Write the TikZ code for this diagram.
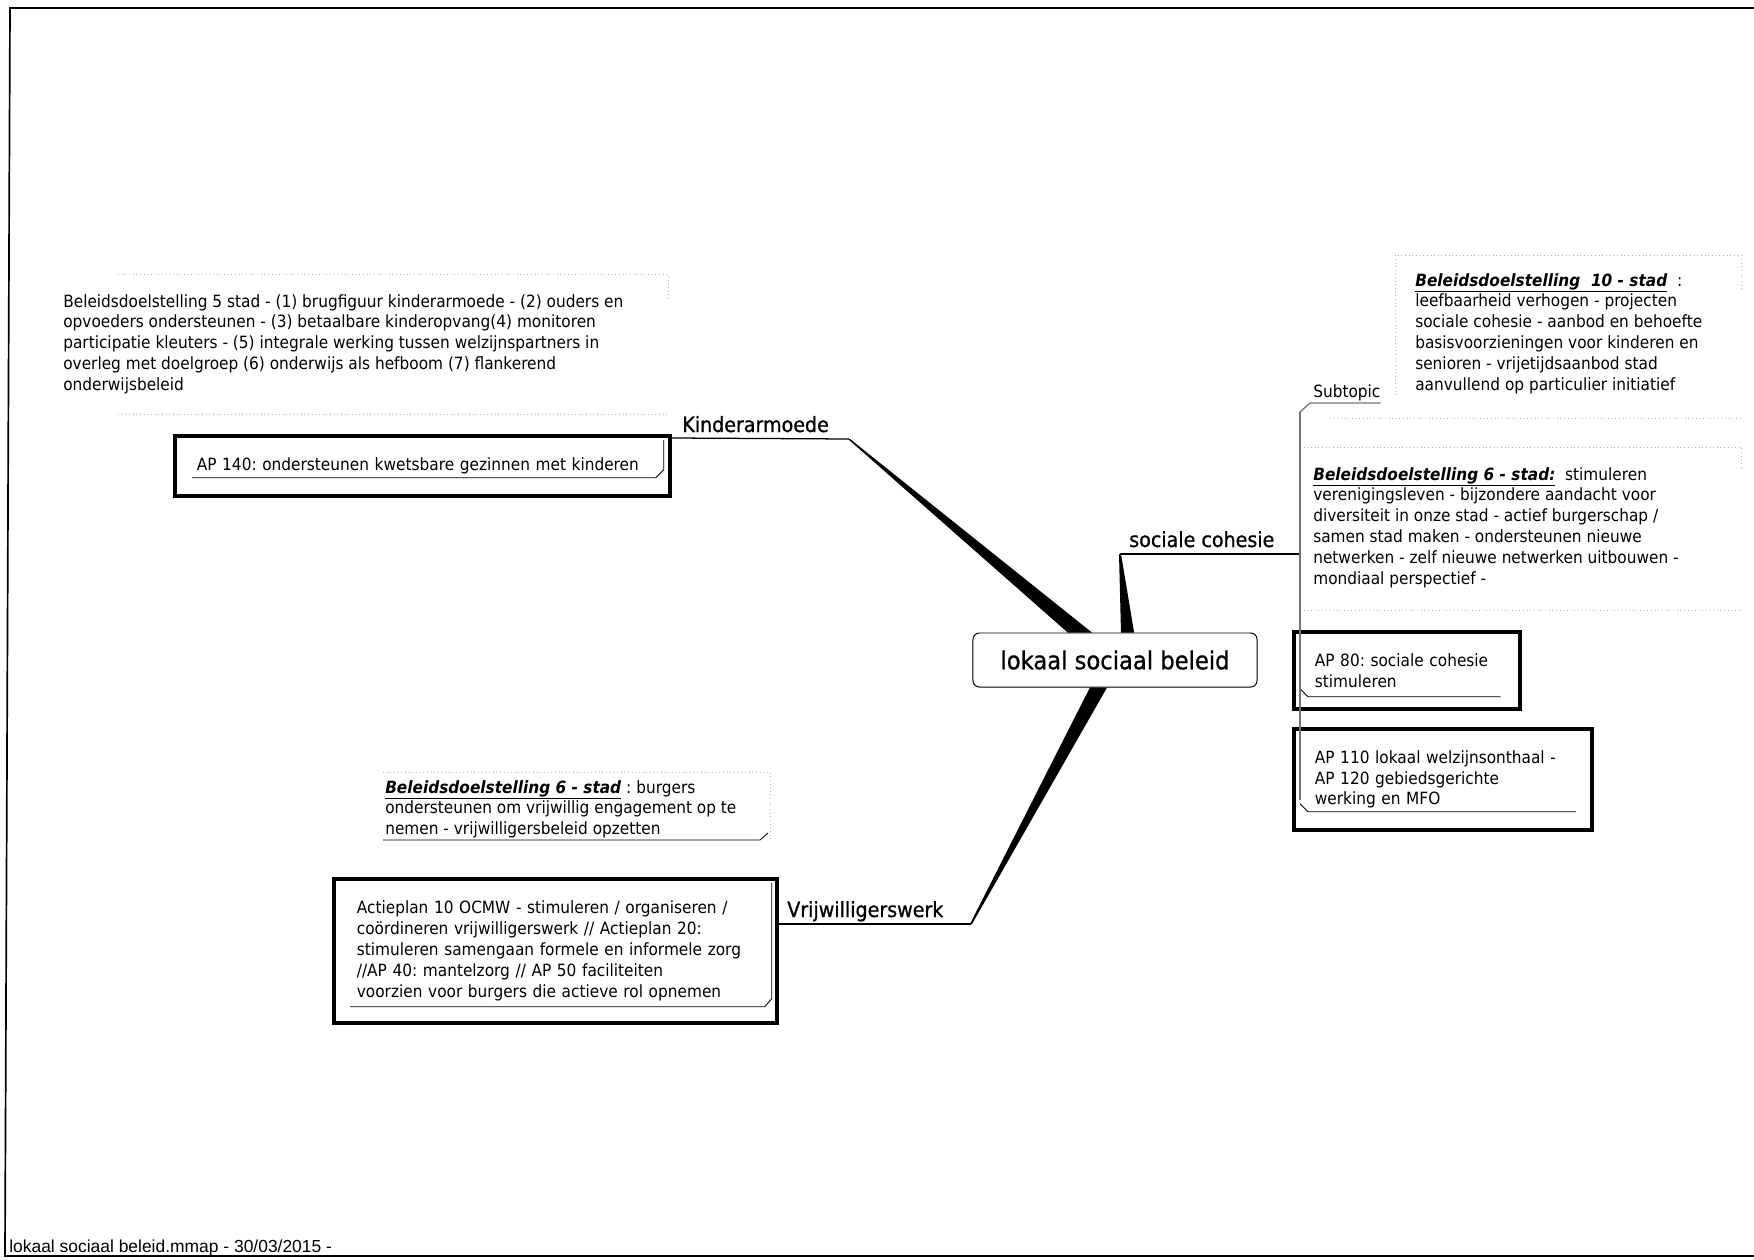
\documentclass[tikz,border=0pt]{standalone}
\usepackage{fontspec}
\setmainfont{DejaVu Sans}[FakeStretch=0.91]
\newfontfamily\footfont{Liberation Sans}
\usetikzlibrary{calc}
\frenchspacing

\newcommand{\notefont}{\fontsize{12}{14.85}\selectfont}
\newcommand{\topicfont}{\fontsize{14.9}{18}\selectfont\addfontfeature{FakeBold=0.8}}
\newcommand{\rootfont}{\fontsize{17.7}{21}\selectfont\addfontfeature{FakeBold=0.8}}
\newcommand{\bdtitle}[1]{\underline{\textbf{\textit{#1}}}}
% tapered branch: thin end #1, wide end from #2 to #3
\newcommand{\taperbranch}[3]{
   \fill ($ (#1)+(-1,0) $) -- ($ (#1)+(1,0) $) -- (#3) -- (#2) -- cycle;
}

\tikzset{
   rootbox/.style={draw, rounded corners=1.6mm, line width=0.7pt, fill=white, font=\rootfont, minimum width=71mm, minimum height=13.5mm, inner sep=0pt},
   apbox/.style={draw, line width=2.6pt, font=\notefont, align=left, anchor=north west, inner ysep=0pt},
   topiclabel/.style={font=\topicfont, anchor=base west, inner sep=0pt},
   notetext/.style={font=\notefont, align=left, anchor=north west, inner sep=0pt},
   subline/.style={line width=0.6pt},
   topicline/.style={line width=0.9pt},
   trunkline/.style={line width=0.9pt, black!55},
   noteborder/.style={dotted, black!30, line width=0.6pt}
}

\begin{document}
\begin{tikzpicture}[x=0.025cm, y=-0.025cm]
		\useasboundingbox (0,0) rectangle (1754,1260);
		
		% Frame
		\draw[line width=1.2pt] (1754,8) -- (10,8) -- (5,1256) -- (1754,1256);
		\node[font=\footfont\fontsize{12.4}{14}\selectfont, anchor=base west, inner sep=0pt] (footer) at (9,1252) {lokaal sociaal beleid.mmap - 30/03/2015 -};
		
		% Notes
		\node[notetext] (bdkinder) at (63,294) {Beleidsdoelstelling 5 stad - (1) brugfiguur kinderarmoede - (2) ouders en\\
			opvoeders ondersteunen - (3) betaalbare kinderopvang(4) monitoren\\
			participatie kleuters - (5) integrale werking tussen welzijnspartners in\\
			overleg met doelgroep (6) onderwijs als hefboom (7) flankerend\\
			onderwijsbeleid};
		\node[notetext] (bdstad10) at (1415,273) {\bdtitle{Beleidsdoelstelling\ \ 10 - stad}\ \ :\\
			leefbaarheid verhogen - projecten\\
			sociale cohesie - aanbod en behoefte\\
			basisvoorzieningen voor kinderen en\\
			senioren - vrijetijdsaanbod stad\\
			aanvullend op particulier initiatief};
		\node[notetext] (bdstad6) at (1313,467) {\bdtitle{Beleidsdoelstelling 6 - stad:}\ \ stimuleren\\
			verenigingsleven - bijzondere aandacht voor\\
			diversiteit in onze stad - actief burgerschap /\\
			samen stad maken - ondersteunen nieuwe\\
			netwerken - zelf nieuwe netwerken uitbouwen -\\
			mondiaal perspectief -};
		\node[notetext] (bdvrij) at (385,780) {\bdtitle{Beleidsdoelstelling 6 - stad} : burgers\\
			ondersteunen om vrijwillig engagement op te\\
			nemen - vrijwilligersbeleid opzetten};
		
		%% note borders
		\draw[noteborder] (118,274) -- (668,274) -- (668,300);
		\draw[noteborder] (118,414) -- (668,414);
		\draw[noteborder] (1395,395) -- (1395,255) -- (1741,255) -- (1741,290);
		\draw[noteborder] (1330,418) -- (1741,418);
		\draw[noteborder] (1300,447) -- (1741,447) -- (1741,470);
		\draw[noteborder] (1300,610) -- (1741,610);
		\draw[noteborder] (383,772) -- (770,772) -- (770,840);
		
		% Central topic
		\node[rootbox] (root) at (1115,660) {lokaal sociaal beleid};
		
		% Topics
		\node[topiclabel] (kinder) at (682,432) {Kinderarmoede};
		\node[topiclabel] (cohesie) at (1129,547) {sociale cohesie};
		\node[topiclabel] (vrijw) at (787,917) {Vrijwilligerswerk};
		\node[font=\notefont, anchor=base west, inner sep=0pt] (subtopic) at (1313,398) {Subtopic};
		
		% Boxes
		\node[apbox, text width=112.75mm, inner xsep=5.5mm, minimum height=15mm] (ap140) at (173,434) {AP 140: ondersteunen kwetsbare gezinnen met kinderen};
		\node[apbox, text width=99.25mm, inner xsep=5.75mm, minimum height=36mm] (vrijbox) at (332,877) {Actieplan 10 OCMW - stimuleren / organiseren /\\
			co\"ordineren vrijwilligerswerk // Actieplan 20:\\
			stimuleren samengaan formele en informele zorg\\
			//AP 40: mantelzorg // AP 50 faciliteiten\\
			voorzien voor burgers die actieve rol opnemen};
		\node[apbox, text width=46mm, inner xsep=5.25mm, minimum height=19.25mm] (ap80) at (1292,630) {AP 80: sociale cohesie\\stimuleren};
		\node[apbox, text width=64mm, inner xsep=5.25mm, minimum height=25.25mm] (ap110) at (1292,727) {AP 110 lokaal welzijnsonthaal -\\AP 120 gebiedsgerichte\\werking en MFO};
		
		%% lines under the box texts
		\draw[subline] ($(ap140.south west)+(19,-20)$) -- ($(ap140.south east)+(-16,-20)$) -- ($(ap140.south east)+(-8,-28)$) -- ($(ap140.north east)+(-8,6)$);
		\draw[subline] ($(vrijbox.south west)+(18,-18)$) -- ($(vrijbox.south east)+(-14,-18)$) -- ($(vrijbox.south east)+(-7,-26)$) -- ($(vrijbox.north east)+(-7,6)$);
		\draw[subline] ($(ap80.south west)+(8,-22)$) -- ($(ap80.south west)+(16,-14)$) -- ($(ap80.south east)+(-21,-14)$);
		\draw[subline] ($(ap110.south west)+(8,-28)$) -- ($(ap110.south west)+(16,-20)$) -- ($(ap110.south east)+(-18,-20)$);
		\draw[subline] ($(bdvrij.north west)+(-2,60)$) -- ++(377,0) -- ++(8,-7);
		
		% Connectors
		\coordinate (kinderend) at (849,439);
		\coordinate (cohesieend) at (1120,554);
		\coordinate (vrijwend) at (971,924);
		\coordinate (trunktop) at (1300,412);
		\coordinate (trunkbot) at (1300,800);
		%
		\draw[topicline] ($(ap140.north east)+(0,4)$) -- (kinderend);
		\draw[topicline] (cohesieend) -- (cohesieend -| trunktop);
		\draw[topicline] ($(vrijbox.north east)+(0,47)$) -- (vrijwend);
		\draw[trunkline] (trunktop) -- (trunkbot);
		\draw[trunkline] (trunktop) -- ($(subtopic.base west)+(-3,5)$) -- ($(subtopic.base east)+(0,5)$);
		%% Branches
		\taperbranch{kinderend}{$(root.north west)!0.334!(root.north east)$}{$(root.north west)!0.419!(root.north east)$}
		\taperbranch{cohesieend}{$(root.north west)!0.521!(root.north east)$}{$(root.north west)!0.567!(root.north east)$}
		\taperbranch{vrijwend}{$(root.south west)!0.412!(root.south east)$}{$(root.south west)!0.472!(root.south east)$}
	\end{tikzpicture}
\end{document}
